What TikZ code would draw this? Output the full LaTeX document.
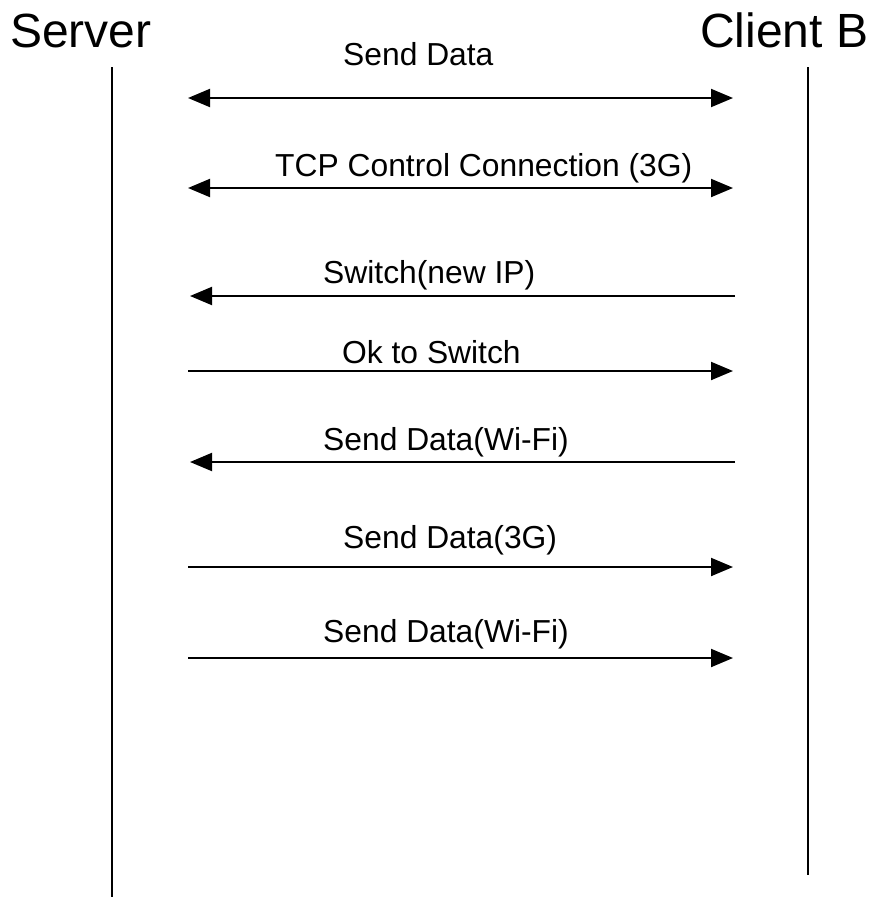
\documentclass[tikz,border=0pt]{standalone}
\usepackage{fontspec}
\setmainfont{Liberation Sans}
\usetikzlibrary{arrows.meta}
\begin{document}
\begin{tikzpicture}[x=1pt,y=-1pt,
  head/.style={font=\fontsize{48}{56}\selectfont, inner sep=0pt, anchor=base west},
  lbl/.style={font=\fontsize{31.8}{38}\selectfont, inner sep=0pt, anchor=base west},
  life/.style={line width=1.5pt},
  msg/.style={line width=2pt, -{Triangle[length=22pt,width=18pt]}},
  dmsg/.style={line width=2pt, {Triangle[length=22pt,width=18pt]}-{Triangle[length=22pt,width=18pt]}}]
\useasboundingbox (0,0) rectangle (876,897);
\node[head] (srv) at (10,47) {Server};
\node[head] (cli) at (700,47) {Client B};
\coordinate (s0) at (112,67); \coordinate (s1) at (112,897);
\coordinate (c0) at (808,67); \coordinate (c1) at (808,875);
\draw[life] (s0) -- (s1);
\draw[life] (c0) -- (c1);
% messages
\coordinate (a1l) at (188,98);  \coordinate (a1r) at (733,98);
\coordinate (a2l) at (188,188); \coordinate (a2r) at (733,188);
\coordinate (a3l) at (190,296); \coordinate (a3r) at (735,296);
\coordinate (a4l) at (188,371); \coordinate (a4r) at (733,371);
\coordinate (a5l) at (190,462); \coordinate (a5r) at (735,462);
\coordinate (a6l) at (188,567); \coordinate (a6r) at (733,567);
\coordinate (a7l) at (188,658); \coordinate (a7r) at (733,658);
\draw[dmsg] (a1l) -- (a1r);
\draw[dmsg] (a2l) -- (a2r);
\draw[msg] (a3r) -- (a3l);
\draw[msg] (a4l) -- (a4r);
\draw[msg] (a5r) -- (a5l);
\draw[msg] (a6l) -- (a6r);
\draw[msg] (a7l) -- (a7r);
\node[lbl] (t1) at (343,65) {Send Data};
\node[lbl] (t2) at (275,176) {TCP Control Connection (3G)};
\node[lbl] (t3) at (323,283) {Switch(new IP)};
\node[lbl] (t4) at (342,363) {Ok to Switch};
\node[lbl] (t5) at (323,450) {Send Data(Wi-Fi)};
\node[lbl] (t6) at (343,548) {Send Data(3G)};
\node[lbl] (t7) at (323,642) {Send Data(Wi-Fi)};
\end{tikzpicture}
\end{document}
